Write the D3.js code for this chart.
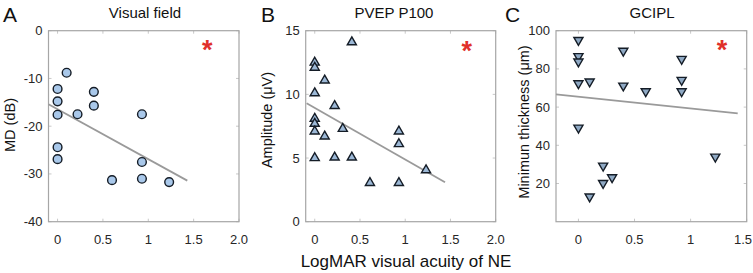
<!DOCTYPE html>
<html><head><meta charset="utf-8">
<script src="https://cdn.jsdelivr.net/npm/d3@7"></script>
<style>body{margin:0;background:#fff}svg{display:block;font-family:"Liberation Sans",Arial,sans-serif}</style>
</head><body><svg id="c" width="753" height="273"></svg>
<script>
// Panel A: Visual field (MD, dB)
const vfX = [0, 0, 0, 0, 0, 0.1, 0.22, 0.4, 0.4, 0.6, 0.93, 0.93, 0.93, 1.23];
const vfY = [-12.2, -14.8, -17.6, -24.4, -26.9, -8.8, -17.5, -12.8, -15.7, -31.3, -17.5, -27.5, -31.0, -31.7];
const vfFitX = [-0.1, 1.43];
const vfFitY = [-15.4, -31.4];
const vfStar = [1.65, -2.8];
// Panel B: PVEP P100 amplitude (µV)
const pvX = [0.41, 0, 0, 0.11, 0, 0.22, 0, 0, 0, 0.31, 0.11, 0.93, 0.93, 0, 0.22, 0.41, 1.23, 0.61, 0.93];
const pvY = [14.1, 12.5, 12.1, 11.1, 10.1, 9.1, 8.1, 7.7, 7.1, 7.3, 6.7, 7.1, 6.1, 5.0, 5.05, 5.05, 4.05, 3.05, 3.05];
const pvFitX = [-0.09, 1.44];
const pvFitY = [9.3, 3.1];
const pvStar = [1.68, 13.9];
// Panel C: GCIPL minimum thickness (µm)
const gcX = [0, 0, 0, 0, 0.1, 0, 0.4, 0.4, 0.6, 0.92, 0.92, 0.92, 0.22, 0.22, 0.3, 0.1, 1.22];
const gcY = [95.1, 86.6, 83.8, 72.4, 73.3, 49.2, 89.4, 71.2, 68.2, 85.2, 74.2, 68.2, 29.3, 20.2, 23.2, 13.1, 34.0];
const gcFitX = [-0.2, 1.42];
const gcFitY = [66.7, 56.7];
const gcStar = [1.28, 93];

const xTicksAB = [0, 0.5, 1, 1.5, 2.0];
const xTickLabelsAB = ["0", "0.5", "1", "1.5", "2.0"];
const xTicksC = [0, 0.5, 1, 1.5];
const xTickLabelsC = ["0", "0.5", "1", "1.5"];
const yTicksA = [0, -10, -20, -30, -40];
const yTicksB = [0, 5, 10, 15];
const yTicksC = [20, 40, 60, 80, 100];

const svg = d3.select("#c");
const plotTop = 30.7, plotBottom = 221.7;

function panel(o) {
  const g = svg.append("g");
  const x = d3.scaleLinear().domain(o.xDom).range([o.left, o.right]);
  const y = d3.scaleLinear().domain(o.yDom).range([plotBottom, plotTop]);
  const tc = "#c8c8c8";
  o.xTicks.forEach(t => {
    g.append("line").attr("x1", x(t)).attr("x2", x(t)).attr("y1", plotBottom).attr("y2", plotBottom - 3).attr("stroke", tc);
    g.append("line").attr("x1", x(t)).attr("x2", x(t)).attr("y1", plotTop).attr("y2", plotTop + 3).attr("stroke", tc);
  });
  o.yTicks.forEach(t => {
    g.append("line").attr("x1", o.left).attr("x2", o.left + 3).attr("y1", y(t)).attr("y2", y(t)).attr("stroke", tc);
    g.append("line").attr("x1", o.right).attr("x2", o.right - 3).attr("y1", y(t)).attr("y2", y(t)).attr("stroke", tc);
  });
  g.append("rect").attr("x", o.left).attr("y", plotTop).attr("width", o.right - o.left).attr("height", plotBottom - plotTop)
    .attr("fill", "none").attr("stroke", "#a6a6a6").attr("stroke-width", 1.2);
  o.xTicks.forEach((t, i) => {
    const tx = g.append("text").attr("y", 244).attr("font-size", 13).attr("fill", "#262626").text(o.xLabels[i]);
    if (x(t) + 9 > 753) tx.attr("x", 752).attr("text-anchor", "end");
    else tx.attr("x", x(t)).attr("text-anchor", "middle");
  });
  o.yTicks.forEach(t => {
    g.append("text").attr("x", o.left - 6).attr("y", y(t) + 4.5).attr("text-anchor", "end")
      .attr("font-size", 13).attr("fill", "#262626").text(t);
  });
  g.append("line").attr("x1", x(o.fitX[0])).attr("y1", y(o.fitY[0])).attr("x2", x(o.fitX[1])).attr("y2", y(o.fitY[1]))
    .attr("stroke", "#9a9a9a").attr("stroke-width", 1.8);
  const sym = d3.symbol().type(o.shape === "circle" ? d3.symbolCircle : d3.symbolTriangle).size(o.size);
  o.xs.forEach((xv, i) => {
    g.append("path").attr("d", sym())
      .attr("transform", `translate(${x(xv)},${y(o.ys[i])})` + (o.shape === "down" ? " rotate(180)" : ""))
      .attr("fill", o.fill).attr("stroke", "#141c26").attr("stroke-width", 1.4);
  });
  g.append("text").attr("x", x(o.star[0])).attr("y", y(o.star[1]) + 15).attr("text-anchor", "middle")
    .attr("font-size", 27).attr("font-weight", "bold").attr("fill", "#e0302a").text("*");
  g.append("text").attr("x", o.titleX).attr("y", 18).attr("text-anchor", "middle").attr("font-size", 15)
    .attr("fill", "#111").text(o.title);
  g.append("text").attr("x", o.letterX).attr("y", 22).attr("font-size", 21).attr("fill", "#111").text(o.letter);
  g.append("text").attr("transform", `translate(${o.ylabX},${o.ylabY}) rotate(-90)`).attr("text-anchor", "middle")
    .attr("font-size", 14.5).attr("fill", "#111").text(o.ylab);
}

panel({left: 48.5, right: 239, xDom: [-0.1, 2.0], yDom: [-40, 0], xTicks: xTicksAB, xLabels: xTickLabelsAB,
  yTicks: yTicksA, xs: vfX, ys: vfY, fitX: vfFitX, fitY: vfFitY, star: vfStar, shape: "circle", size: 60,
  fill: "#a9c8ea", title: "Visual field", titleX: 145, letter: "A", letterX: 3, ylab: "MD (dB)", ylabX: 15, ylabY: 125});
panel({left: 305.7, right: 495.7, xDom: [-0.1, 2.0], yDom: [0, 15], xTicks: xTicksAB, xLabels: xTickLabelsAB,
  yTicks: yTicksB, xs: pvX, ys: pvY, fitX: pvFitX, fitY: pvFitY, star: pvStar, shape: "up", size: 36,
  fill: "#9cb8d6", title: "PVEP P100", titleX: 394, letter: "B", letterX: 261, ylab: "Amplitude (\u03bcV)", ylabX: 272, ylabY: 120});
panel({left: 556, right: 746.7, xDom: [-0.2, 1.5], yDom: [0, 100], xTicks: xTicksC, xLabels: xTickLabelsC,
  yTicks: yTicksC, xs: gcX, ys: gcY, fitX: gcFitX, fitY: gcFitY, star: gcStar, shape: "down", size: 36,
  fill: "#8fa9c4", title: "GCIPL", titleX: 652, letter: "C", letterX: 505, ylab: "Minimun thickness (\u03bcm)", ylabX: 529, ylabY: 122});

svg.append("text").attr("x", 406).attr("y", 267).attr("text-anchor", "middle").attr("font-size", 17)
  .attr("fill", "#111").text("LogMAR visual acuity of NE");
</script></body></html>
